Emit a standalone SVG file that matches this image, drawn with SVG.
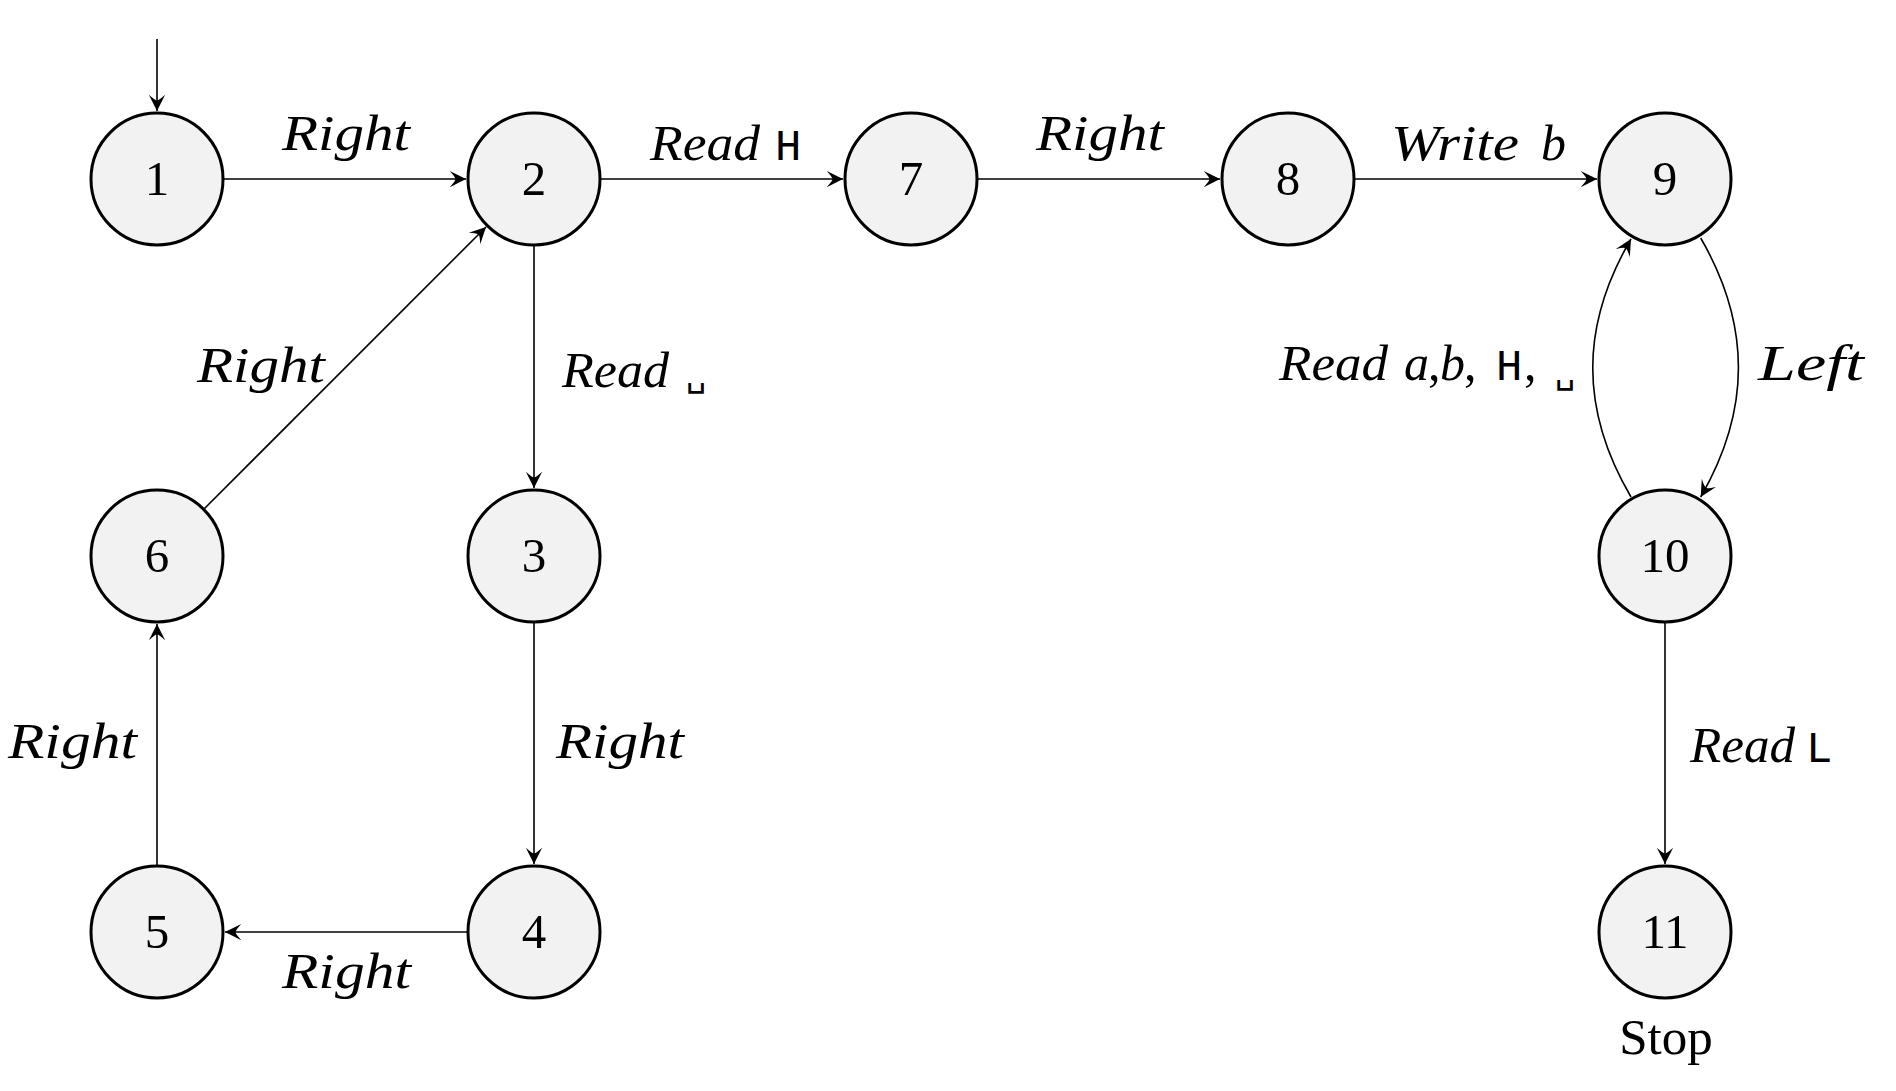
<svg xmlns="http://www.w3.org/2000/svg" width="1896" height="1091" viewBox="0 0 1896 1091">
<style>
.node circle{fill:#f2f2f2;stroke:#000;stroke-width:3}
.node text{font-family:"Liberation Serif",serif;font-size:49px;text-anchor:middle;fill:#000}
.edge{fill:none;stroke:#000;stroke-width:1.6;marker-end:url(#arr)}
.lbl{font-family:"Liberation Serif",serif;font-style:italic;font-size:50px;fill:#000}
.tt{font-family:"Liberation Mono",monospace;font-style:normal;font-size:44px}
.up{font-style:normal}
.vs{font-family:"DejaVu Sans Mono",monospace;font-style:normal;font-size:34px}
.stop{font-family:"Liberation Serif",serif;font-size:51px;text-anchor:middle;fill:#000}
</style>
<defs>
<marker id="arr" markerUnits="userSpaceOnUse" markerWidth="20" markerHeight="20" viewBox="-14 -8 16 16" refX="0" refY="0" orient="auto">
<path d="M0,0 L-13,-6.5 Q-8,-1 -8.5,0 Q-8,1 -13,6.5 Z" fill="#000"/>
</marker>
</defs>
<rect width="1896" height="1091" fill="#fff"/>
<g id="connectors">
<path class="edge" d="M157,39 L157,111"/>
<path class="edge" d="M224,179 L466,179"/>
<path class="edge" d="M601,179 L843,179"/>
<path class="edge" d="M978,179 L1220,179"/>
<path class="edge" d="M1355,179 L1597,179"/>
<path class="edge" d="M534,246 L534,488"/>
<path class="edge" d="M534,623 L534,864"/>
<path class="edge" d="M467,932 L225,932"/>
<path class="edge" d="M157,865 L157,624"/>
<path class="edge" d="M204.5,508.5 L486,227"/>
<path class="edge" d="M1700.7,238 C1751,325 1751,410 1700.7,497"/>
<path class="edge" d="M1631,497 C1580,410 1580,326 1631,239"/>
<path class="edge" d="M1665,623 L1665,864"/>
</g>
<g id="labels">
<text class="lbl" x="282" y="150" textLength="128" lengthAdjust="spacingAndGlyphs">Right</text>
<text class="lbl" y="160"><tspan x="650" textLength="110" lengthAdjust="spacingAndGlyphs">Read</tspan><tspan class="tt" x="775">H</tspan></text>
<text class="lbl" x="1036" y="150" textLength="128" lengthAdjust="spacingAndGlyphs">Right</text>
<text class="lbl" y="160"><tspan x="1391" textLength="128" lengthAdjust="spacingAndGlyphs">Write</tspan><tspan x="1541">b</tspan></text>
<text class="lbl" y="380"><tspan x="1279" textLength="109" lengthAdjust="spacingAndGlyphs">Read</tspan><tspan x="1404">a</tspan><tspan class="up" x="1428">,</tspan><tspan x="1440">b</tspan><tspan class="up" x="1464">,</tspan><tspan class="tt" x="1496">H</tspan><tspan class="up" x="1524">,</tspan><tspan class="vs" x="1555" dy="3">␣</tspan></text>
<text class="lbl" x="1758" y="380" textLength="106" lengthAdjust="spacingAndGlyphs">Left</text>
<text class="lbl" x="197" y="382" textLength="128" lengthAdjust="spacingAndGlyphs">Right</text>
<text class="lbl" y="387"><tspan x="562" textLength="107" lengthAdjust="spacingAndGlyphs">Read</tspan><tspan class="vs" x="686" dy="-1">␣</tspan></text>
<text class="lbl" x="556" y="758" textLength="128" lengthAdjust="spacingAndGlyphs">Right</text>
<text class="lbl" x="8" y="758" textLength="129" lengthAdjust="spacingAndGlyphs">Right</text>
<text class="lbl" x="282" y="988" textLength="129" lengthAdjust="spacingAndGlyphs">Right</text>
<text class="lbl" y="762"><tspan x="1690" textLength="105" lengthAdjust="spacingAndGlyphs">Read</tspan><tspan class="tt" x="1806">L</tspan></text>
<text class="stop" x="1666" y="1054">Stop</text>
</g>
<g id="n1" class="node"><circle cx="157" cy="179" r="66"/><text x="157" y="195">1</text></g>
<g id="n2" class="node"><circle cx="534" cy="179" r="66"/><text x="534" y="195">2</text></g>
<g id="n7" class="node"><circle cx="911" cy="179" r="66"/><text x="911" y="195">7</text></g>
<g id="n8" class="node"><circle cx="1288" cy="179" r="66"/><text x="1288" y="195">8</text></g>
<g id="n9" class="node"><circle cx="1665" cy="179" r="66"/><text x="1665" y="195">9</text></g>
<g id="n6" class="node"><circle cx="157" cy="556" r="66"/><text x="157" y="572">6</text></g>
<g id="n3" class="node"><circle cx="534" cy="556" r="66"/><text x="534" y="572">3</text></g>
<g id="n10" class="node"><circle cx="1665" cy="556" r="66"/><text x="1665" y="572">10</text></g>
<g id="n5" class="node"><circle cx="157" cy="932" r="66"/><text x="157" y="948">5</text></g>
<g id="n4" class="node"><circle cx="534" cy="932" r="66"/><text x="534" y="948">4</text></g>
<g id="n11" class="node"><circle cx="1665" cy="932" r="66"/><text x="1665" y="948">11</text></g>
</svg>
